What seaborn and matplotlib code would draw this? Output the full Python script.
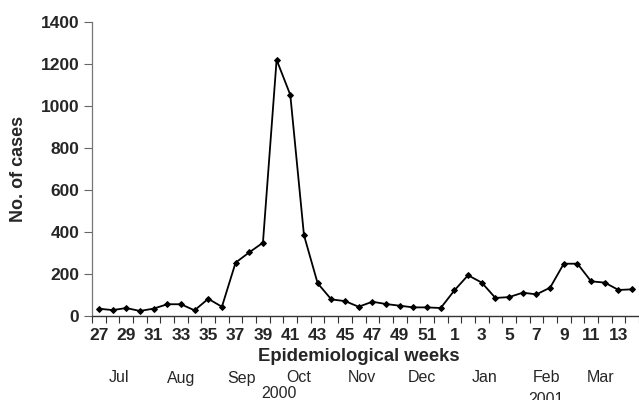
import matplotlib
matplotlib.use("Agg")
import matplotlib.pyplot as plt
import matplotlib.transforms as mtransforms
from matplotlib.ticker import FixedLocator
import seaborn as sns
import pandas as pd

weeks = [27, 28, 29, 30, 31, 32, 33, 34, 35, 36, 37, 38, 39, 40, 41, 42, 43,
         44, 45, 46, 47, 48, 49, 50, 51, 52,
         1, 2, 3, 4, 5, 6, 7, 8, 9, 10, 11, 12, 13, 14]
cases = [35, 28, 38, 24, 35, 56, 56, 27, 82, 44, 254, 303, 349, 1220, 1053, 385, 156,
         79, 71, 44, 68, 57, 49, 41, 41, 38,
         122, 194, 159, 86, 90, 111, 103, 135, 249, 249, 165, 159, 124, 127]
months = ["Jul", "Aug", "Sep", "Oct", "Nov", "Dec", "Jan", "Feb", "Mar"]
month_pos = [1.5, 6.0, 10.4, 14.6, 19.2, 23.6, 28.2, 32.7, 36.7]
years = ["2000", "2001"]
year_pos = [13.2, 32.7]
yticks = [0, 200, 400, 600, 800, 1000, 1200, 1400]

df = pd.DataFrame({"idx": list(range(len(weeks))), "week": weeks, "cases": cases})

sns.set_theme(style="ticks")
plt.rcParams["font.family"] = ["Liberation Sans", "DejaVu Sans"]

fig = plt.figure(figsize=(6.39, 4.0), dpi=100)
ax = fig.add_axes([92 / 639, 84 / 400, 1 - 92 / 639, 294 / 400])

sns.lineplot(data=df, x="idx", y="cases", ax=ax, color="black", linewidth=1.3,
             marker="D", markersize=3, markeredgecolor="black", markerfacecolor="black")

ax.set_xlim(-0.5, len(weeks) - 0.5)
ax.set_ylim(0, 1400)
ax.set_yticks(yticks)
ax.set_yticklabels([str(v) for v in yticks], fontsize=12.5, fontweight="bold")

lab_idx = list(range(0, len(weeks), 2))
ax.xaxis.set_major_locator(FixedLocator(lab_idx))
ax.set_xticklabels([str(weeks[i]) for i in lab_idx], fontsize=12.5, fontweight="bold")
ax.xaxis.set_minor_locator(FixedLocator([i - 0.5 for i in range(len(weeks) + 1)]))
ax.tick_params(axis="x", which="major", length=0, pad=9)
ax.tick_params(axis="x", which="minor", length=5, width=0.8, color="#333333", direction="out")
ax.tick_params(axis="y", which="major", length=6, width=0.8, color="#666666", pad=3)

for s in ["top", "right"]:
    ax.spines[s].set_visible(False)
ax.spines["left"].set_color("#777777")
ax.spines["left"].set_linewidth(0.9)
ax.spines["bottom"].set_color("#333333")
ax.spines["bottom"].set_linewidth(1.0)

ax.set_xlabel("Epidemiological weeks", fontsize=13.3, fontweight="bold")
ax.xaxis.set_label_coords((359 - 92) / 547, -(348 - 316) / 294)
ax.set_ylabel("No. of cases", fontsize=13, fontweight="bold")
ax.yaxis.set_label_coords((27 - 92) / 547, 0.5)

trans = mtransforms.blended_transform_factory(ax.transData, fig.transFigure)
for m, p in zip(months, month_pos):
    ax.text(p, 1 - 378 / 400, m, transform=trans, ha="center", va="center",
            fontsize=11.5, clip_on=False)
ax.text(year_pos[0], 1 - 393 / 400, years[0], transform=trans, ha="center", va="center",
        fontsize=11.5, clip_on=False)
ax.text(year_pos[1], 1 - 399 / 400, years[1], transform=trans, ha="center", va="center",
        fontsize=11.5, clip_on=False)

fig.savefig("out.png", dpi=100)
